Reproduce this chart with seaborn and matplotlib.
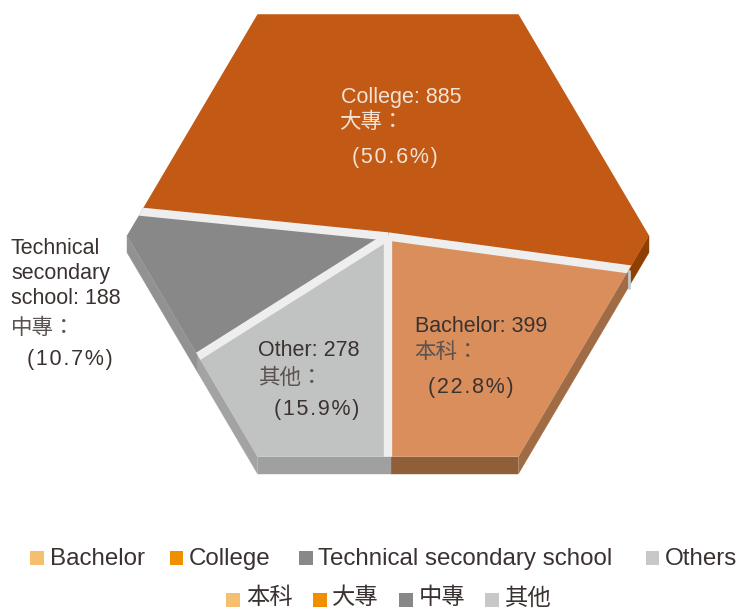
import numpy as np
import matplotlib
matplotlib.use("Agg")
import matplotlib.pyplot as plt
from matplotlib.patches import Polygon
import seaborn as sns

categories = ["Bachelor", "College", "Technical secondary school", "Others"]
categories_zh = ["本科", "大專", "中專", "其他"]
values = [399, 885, 188, 278]
percents = ["22.8%", "50.6%", "10.7%", "15.9%"]

top_colors = ["#d98e5c", "#c25914", "#888888", "#c1c3c2"]
# side faces: slanted edge, bottom edge
side_colors = [("#a06c45", "#8f5f3a"), ("#8f3f00", "#8f3f00"),
               ("#929292", "#929292"), ("#a3a3a3", "#a0a0a0")]
legend_colors = ["#f5bf6f", "#f09000", "#888888", "#c8c8c8"]

# hexagon in pixel space
CX, CY = 388, 235.5
RX, RY = 261, 255.5
DEPTH = 17
START = 270
GAP = "#eeeeee"

sns.set_theme(style="white")
plt.rcParams["font.family"] = ["Liberation Sans", "Noto Sans CJK TC", "DejaVu Sans"]


def hex_point(angle):
    """Point on the hexagon outline for a pie angle in degrees."""
    a = np.radians(angle)
    seg = np.floor(angle / 60) * 60
    p0 = np.array([np.cos(np.radians(seg)), np.sin(np.radians(seg))])
    p1 = np.array([np.cos(np.radians(seg + 60)), np.sin(np.radians(seg + 60))])
    d = np.array([np.cos(a), np.sin(a)])
    # intersect the ray with the edge p0-p1
    m = np.array([d, p0 - p1]).T
    t = np.linalg.solve(m, p0)[0]
    return CX + RX * t * d[0], CY - RY * t * d[1]


def outline_angles(a0, a1):
    inner = [k * 60 for k in range(int(a0 // 60) + 1, int(np.ceil(a1 / 60)))]
    return [a0] + inner + [a1]


def spaced(s):
    return "\u200a".join(s)


fig = plt.figure(figsize=(7.37, 6.12), dpi=100)
ax = fig.add_axes([0, 0, 1, 1])
ax.set_xlim(0, 737)
ax.set_ylim(612, 0)
ax.axis("off")

shares = np.array(values) / sum(values) * 360
edges = START + np.concatenate([[0], np.cumsum(shares)])

# side faces first, then the top of each slice
for i in range(len(values)):
    angles = outline_angles(edges[i], edges[i + 1])
    for a0, a1 in zip(angles[:-1], angles[1:]):
        mid = (a0 + a1) / 2 % 360
        if mid < 180:
            continue
        x0, y0 = hex_point(a0)
        x1, y1 = hex_point(a1)
        # seam at the bottom sits a little right of the gap
        if np.isclose(a0 % 360, START):
            x0 += 3
        if np.isclose(a1 % 360, START):
            x1 += 3
        color = side_colors[i][1] if 240 < mid < 300 else side_colors[i][0]
        ax.fill([x0, x1, x1, x0], [y0, y1, y1 + DEPTH, y0 + DEPTH],
                color=color, lw=0.3, zorder=1)

for i in range(len(values)):
    pts = [(CX, CY)] + [hex_point(a) for a in outline_angles(edges[i], edges[i + 1])]
    ax.fill(*zip(*pts), color=top_colors[i], lw=0, zorder=2)

# light gaps between the slices
outline = Polygon([hex_point(a) for a in range(0, 360, 60)], closed=True,
                  transform=ax.transData, fill=False, lw=0)
ax.add_patch(outline)
for e in edges[:-1]:
    x, y = hex_point(e)
    dx, dy = (x - CX) * 1.03, (y - CY) * 1.03
    line, = ax.plot([CX, CX + dx], [CY + 1, CY + 1 + dy], color=GAP, lw=6, zorder=3,
                    solid_capstyle="butt")
    line.set_clip_path(outline)

# small sliver of the gap on the right side
x, y = hex_point(edges[1])
ax.plot([x - 1, x - 1], [y + 3, y + DEPTH + 3], color="#c6c9cc", lw=2, zorder=1.5)

# faint line on the technical slice side
ax.plot(*zip(hex_point(180), hex_point(edges[3])), color="#a8a8a8", lw=0.5, zorder=1.5)

# slice labels
DARK = "#3a3230"
LIGHT = "#f3e3d6"
ZH_DARK = "#5a5250"
FS = 15.5
labels = [
    (341, 97, "College: 885", LIGHT), (339, 123, "大專：", LIGHT),
    (352, 157, spaced("(50.6%)"), LIGHT),
    (415, 326, "Bachelor: 399", DARK), (414, 353, "本科：", ZH_DARK),
    (428, 388, spaced("(22.8%)"), DARK),
    (258, 351, "Other: 278", DARK), (258, 378, "其他：", ZH_DARK),
    (274, 410, spaced("(15.9%)"), DARK),
    (11, 248, "Technical", DARK), (11, 274, "secondary", DARK),
    (11, 299, "school: 188", DARK), (11, 328, "中專：", ZH_DARK),
    (27, 359, spaced("(10.7%)"), DARK),
]
for x, y, s, c in labels:
    ax.text(x, y, s, color=c, fontsize=FS, va="center", ha="left", zorder=5)

# legend rows
leg_x = [37, 176.5, 306, 652.5, 233, 320, 406, 492]
leg_y = [558] * 4 + [600] * 4
leg_text_x = [50, 189, 318, 665, 246, 332, 419, 505]
leg_text_y = [559] * 4 + [598] * 4
leg_labels = categories + categories_zh
sns.scatterplot(x=leg_x, y=leg_y, hue=leg_labels, palette=legend_colors * 2,
                hue_order=leg_labels, marker="s", s=98, linewidth=0,
                legend=False, ax=ax, zorder=5)
ax.set_xlim(0, 737)
ax.set_ylim(612, 0)
ax.axis("off")
for i, (x, y, s) in enumerate(zip(leg_text_x, leg_text_y, leg_labels)):
    ax.text(x, y, s, color=DARK, fontsize=17.4 if i < 4 else 16.8, va="center", ha="left")

fig.savefig("out.png", dpi=100)
